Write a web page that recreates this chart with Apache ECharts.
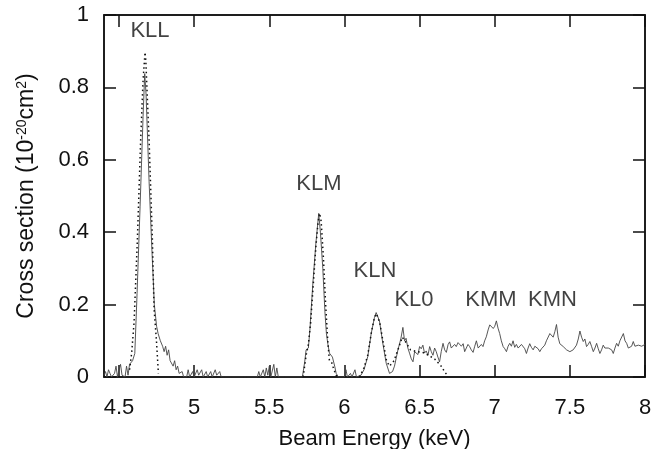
<!DOCTYPE html>
<html>
<head>
<meta charset="utf-8">
<script src="https://cdn.jsdelivr.net/npm/echarts@6/dist/echarts.min.js"></script>
<style>
html,body{margin:0;padding:0;background:#fff;}
#chart{width:654px;height:449px;}
</style>
</head>
<body>
<div id="chart"></div>
<script>
// Measured cross section: [beam energy (keV), cross section (1e-20 cm^2)]
var measured = [
[4.40,0.005],[4.41,0.015],[4.42,0.0],[4.43,0.02],[4.44,0.01],[4.45,0.0],[4.47,0.01],[4.48,0.03],[4.49,0.0],
[4.50,0.02],[4.51,0.035],[4.52,0.005],[4.54,0.0],[4.55,0.03],[4.56,0.005],[4.57,0.035],[4.59,0.045],
[4.605,0.065],[4.62,0.23],[4.64,0.47],[4.66,0.72],[4.671,0.838],[4.68,0.78],[4.70,0.54],[4.72,0.34],
[4.735,0.20],[4.75,0.14],[4.76,0.12],[4.775,0.10],[4.79,0.085],[4.80,0.07],[4.81,0.085],[4.82,0.06],
[4.83,0.075],[4.84,0.045],[4.85,0.05],[4.86,0.03],[4.87,0.045],[4.88,0.02],[4.89,0.03],[4.90,0.01],
[4.92,0.015],[4.93,0.0],[4.95,0.0],[4.96,0.02],[4.97,0.0],[4.99,0.015],[5.00,0.0],[5.02,0.02],[5.03,0.005],
[5.05,0.02],[5.06,0.0],[5.08,0.015],[5.09,0.0],[5.11,0.015],[5.12,0.0],[5.14,0.02],[5.15,0.005],[5.17,0.015],
[5.18,0.0],[5.20,0.0],[5.25,0.0],[5.33,0.0],[5.34,0.005],[5.35,0.0],[5.42,0.0],[5.43,0.015],[5.44,0.0],
[5.46,0.02],[5.47,0.0],[5.48,0.025],[5.49,0.005],[5.50,0.03],[5.51,0.0],[5.53,0.035],[5.54,0.0],[5.55,0.025],
[5.56,0.0],[5.60,0.0],[5.72,0.0],[5.735,0.04],[5.745,0.075],[5.76,0.08],[5.77,0.13],[5.79,0.26],[5.81,0.37],
[5.829,0.452],[5.84,0.40],[5.856,0.30],[5.87,0.18],[5.88,0.12],[5.89,0.09],[5.90,0.066],[5.92,0.055],
[5.935,0.03],[5.945,0.01],[5.96,0.0],[6.00,0.0],[6.01,0.02],[6.02,0.0],[6.04,0.01],[6.05,0.0],[6.07,0.02],
[6.08,0.0],[6.11,0.005],[6.13,0.02],[6.155,0.056],[6.178,0.12],[6.20,0.165],[6.211,0.178],[6.233,0.155],
[6.255,0.094],[6.278,0.038],[6.30,0.01],[6.32,0.015],[6.333,0.03],[6.356,0.075],[6.375,0.105],[6.389,0.137],
[6.40,0.10],[6.41,0.107],[6.422,0.08],[6.433,0.066],[6.445,0.05],[6.456,0.042],[6.467,0.07],[6.478,0.075],
[6.489,0.062],[6.50,0.084],[6.511,0.078],[6.522,0.088],[6.533,0.066],[6.544,0.072],[6.556,0.06],[6.567,0.084],
[6.578,0.07],[6.589,0.06],[6.60,0.08],[6.611,0.07],[6.622,0.055],[6.633,0.042],[6.644,0.07],[6.656,0.093],
[6.667,0.075],[6.678,0.068],[6.69,0.09],[6.70,0.097],[6.711,0.08],[6.722,0.075],[6.733,0.09],[6.744,0.084],
[6.756,0.095],[6.767,0.10],[6.778,0.085],[6.79,0.092],[6.80,0.07],[6.811,0.08],[6.822,0.09],[6.833,0.084],
[6.844,0.075],[6.856,0.068],[6.867,0.085],[6.878,0.10],[6.89,0.08],[6.90,0.075],[6.911,0.09],[6.922,0.084],
[6.933,0.10],[6.944,0.111],[6.956,0.13],[6.967,0.144],[6.978,0.14],[6.99,0.134],[7.00,0.14],[7.011,0.155],
[7.022,0.135],[7.033,0.12],[7.044,0.10],[7.056,0.084],[7.067,0.078],[7.078,0.07],[7.089,0.085],[7.10,0.093],
[7.111,0.085],[7.122,0.10],[7.133,0.082],[7.144,0.09],[7.156,0.08],[7.167,0.075],[7.178,0.09],[7.189,0.095],
[7.20,0.078],[7.211,0.065],[7.222,0.08],[7.233,0.092],[7.244,0.082],[7.256,0.075],[7.267,0.085],[7.278,0.088],
[7.289,0.078],[7.30,0.07],[7.311,0.078],[7.322,0.075],[7.333,0.088],[7.344,0.10],[7.356,0.095],[7.367,0.12],
[7.378,0.115],[7.389,0.11],[7.40,0.125],[7.411,0.145],[7.422,0.11],[7.433,0.092],[7.444,0.088],[7.456,0.084],
[7.467,0.08],[7.478,0.075],[7.489,0.073],[7.50,0.07],[7.511,0.072],[7.522,0.075],[7.533,0.08],[7.544,0.088],
[7.556,0.105],[7.567,0.127],[7.578,0.11],[7.589,0.098],[7.60,0.105],[7.611,0.084],[7.622,0.09],[7.633,0.098],
[7.644,0.085],[7.656,0.07],[7.667,0.08],[7.678,0.093],[7.689,0.078],[7.70,0.065],[7.711,0.075],[7.722,0.088],
[7.733,0.08],[7.744,0.075],[7.756,0.08],[7.767,0.084],[7.778,0.075],[7.789,0.065],[7.80,0.08],[7.811,0.093],
[7.822,0.085],[7.833,0.10],[7.844,0.105],[7.856,0.12],[7.867,0.10],[7.878,0.093],[7.889,0.08],[7.90,0.075],
[7.911,0.085],[7.922,0.098],[7.933,0.085],[7.944,0.08],[7.956,0.088],[7.967,0.093],[7.978,0.085],[7.989,0.084],
[8.00,0.09]
];

// Calculated (fit) curve, dotted; '-' breaks the line
var calculated = [
[4.57,0.02],[4.584,0.066],[4.60,0.15],[4.622,0.378],[4.644,0.655],[4.66,0.82],[4.673,0.897],[4.678,0.876],
[4.70,0.655],[4.722,0.38],[4.733,0.19],[4.749,0.10],[4.762,0.01],[4.80,'-'],
[5.725,0.0],[5.745,0.06],[5.76,0.09],[5.775,0.15],[5.79,0.24],[5.81,0.36],[5.825,0.43],[5.835,0.452],
[5.845,0.43],[5.86,0.33],[5.875,0.20],[5.889,0.10],[5.90,0.045],[5.915,0.04],[5.93,0.02],[5.95,0.0],[6.0,'-'],
[6.10,0.0],[6.13,0.025],[6.155,0.06],[6.18,0.125],[6.20,0.165],[6.213,0.175],[6.235,0.15],[6.26,0.09],
[6.28,0.045],[6.30,0.03],[6.33,0.045],[6.36,0.08],[6.385,0.11],[6.41,0.095],[6.44,0.075],[6.48,0.07],
[6.52,0.068],[6.56,0.06],[6.60,0.05],[6.644,0.03],[6.67,0.012],[6.69,0.003]
];

// Peak annotations
var peakNames = ['KLL','KLM','KLN','KL0','KMM','KMN'];
var peakEnergy = [4.706, 5.83, 6.203, 6.463, 6.975, 7.384];
var peakLabelY = [0.957, 0.533, 0.293, 0.214, 0.214, 0.214];

var xTicks = [4.5,5,5.5,6,6.5,7,7.5,8];
var yTicks = [0,0.2,0.4,0.6,0.8,1];

var FONT = '"Liberation Sans", Arial, Helvetica, sans-serif';
var INK = '#111';
var TXT = '#111';

var chart = echarts.init(document.getElementById('chart'), null, {renderer:'canvas'});

var axisLine = {show:true, onZero:false, lineStyle:{color:INK, width:1.5}};
var tick = {show:true, inside:true, length:12, lineStyle:{color:INK, width:1.5}};

chart.setOption({
  animation:false,
  backgroundColor:'#ffffff',
  grid:{left:104, right:9, top:15, bottom:72, show:true, borderColor:INK, borderWidth:1.5,
        containLabel:false, outerBoundsMode:'none'},
  xAxis:[
    {type:'value', min:4.4, max:8, position:'bottom',
     axisLine:axisLine,
     axisTick:Object.assign({customValues:xTicks}, tick),
     axisLabel:{customValues:xTicks, fontSize:22, color:TXT, fontFamily:FONT, margin:20},
     splitLine:{show:false},
     name:'Beam Energy (keV)', nameLocation:'middle', nameGap:51,
     nameTextStyle:{fontSize:22, color:TXT, fontFamily:FONT}},
    {type:'value', min:4.4, max:8, position:'top',
     axisLine:axisLine,
     axisTick:Object.assign({customValues:xTicks}, tick),
     axisLabel:{show:false}, splitLine:{show:false}}
  ],
  yAxis:[
    {type:'value', min:0, max:1, interval:0.2, position:'left',
     axisLine:axisLine, axisTick:tick,
     axisLabel:{fontSize:22, color:TXT, fontFamily:FONT, margin:15},
     splitLine:{show:false},
     name:'{a|Cross section (10}{s|-20}{a|cm}{s|2}{a|)}', nameLocation:'middle', nameGap:65,
     nameTextStyle:{color:TXT, fontFamily:FONT, fontSize:22,
       rich:{a:{fontSize:23, color:TXT, fontFamily:FONT},
             s:{fontSize:14, color:TXT, fontFamily:FONT, padding:[0,0,10,0]}}}},
    {type:'value', min:0, max:1, interval:0.2, position:'right',
     axisLine:axisLine, axisTick:tick,
     axisLabel:{show:false}, splitLine:{show:false}}
  ],
  series:[
    {type:'line', name:'measured', data:measured, xAxisIndex:0, yAxisIndex:0,
     showSymbol:false, symbol:'none', lineStyle:{color:'#444', width:0.9}, z:3},
    {type:'line', name:'calculated', data:calculated, xAxisIndex:0, yAxisIndex:0,
     showSymbol:false, symbol:'none', connectNulls:false,
     lineStyle:{color:'#111', width:1.5, type:[1.5,3]}, z:4},
    {type:'scatter', name:'labels', xAxisIndex:0, yAxisIndex:0, symbolSize:0,
     data:peakNames.map(function(n,i){return {name:n, value:[peakEnergy[i], peakLabelY[i]]};}),
     label:{show:true, position:'inside', formatter:function(p){return p.name;},
            fontSize:22, color:TXT, fontFamily:FONT}, z:5, silent:true}
  ]
});
</script>
</body>
</html>
